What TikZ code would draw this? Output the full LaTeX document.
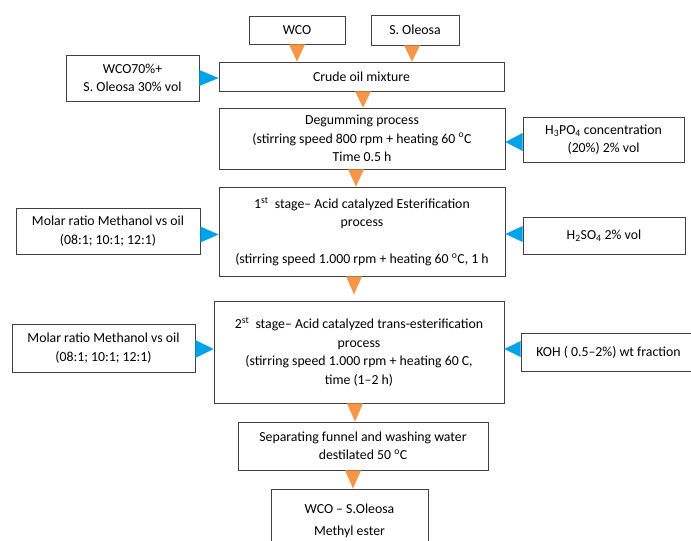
\documentclass[tikz,border=0pt]{standalone}
\usepackage{fontspec}
\setmainfont{Carlito}
\usetikzlibrary{calc}
\definecolor{orangetri}{RGB}{247,150,70}
\definecolor{bluetri}{RGB}{0,162,232}
\definecolor{edgegray}{RGB}{64,64,64}
\tikzset{
  box/.style={draw=edgegray, line width=0.8pt, fill=white, align=center,
    inner sep=0pt, font=\fontsize{13.8}{18.5}\selectfont},
  otri/.style={fill=orangetri},
  btri/.style={fill=bluetri}
}
\begin{document}
\begin{tikzpicture}[x=1pt,y=-1pt]
\useasboundingbox (0,0) rectangle (691,541);
% boxes
\node[box, minimum width=96pt, minimum height=28pt] (wco) at (297,30) {WCO};
\node[box, minimum width=88pt, minimum height=30pt] (sol) at (415,30) {S. Oleosa};
\node[box, minimum width=285pt, minimum height=29pt] (crude) at (361.5,76.5) {Crude oil mixture};
\node[box, minimum width=133pt, minimum height=46pt] (mix) at (132.5,78) {WCO70\%+\\S. Oleosa 30\% vol};
\node[box, minimum width=286pt, minimum height=61pt] (degum) at (362,138.5) {Degumming process\\(stirring speed 800 rpm + heating 60 \textsuperscript{o}C\\Time 0.5 h};
\node[box, minimum width=161pt, minimum height=45pt] (h3po4) at (603.5,139.5) {H\textsubscript{3}PO\textsubscript{4} concentration\\(20\%) 2\% vol};
\node[box, minimum width=286pt, minimum height=89pt] (st1) at (362,231.5) {1\textsuperscript{st}\ \ stage– Acid catalyzed Esterification\\process\\[18.5pt](stirring speed 1.000 rpm + heating 60 \textsuperscript{o}C, 1 h};
\node[box, minimum width=184pt, minimum height=46pt] (mol1) at (108,231) {Molar ratio Methanol vs oil\\(08:1; 10:1; 12:1)};
\node[box, minimum width=162pt, minimum height=37pt] (h2so4) at (604,235.5) {H\textsubscript{2}SO\textsubscript{4} 2\% vol};
\node[box, minimum width=290pt, minimum height=102pt] (st2) at (359,352) {2\textsuperscript{st}\ \ stage– Acid catalyzed trans-esterification\\process\\(stirring speed 1.000 rpm + heating 60 C,\\time (1–2 h)};
\node[box, minimum width=183pt, minimum height=48pt] (mol2) at (103.5,348) {Molar ratio Methanol vs oil\\(08:1; 10:1; 12:1)};
\node[box, minimum width=175pt, minimum height=38pt] (koh) at (608.5,352) {KOH ( 0.5–2\%) wt fraction};
\node[box, minimum width=250pt, minimum height=48pt] (sep) at (363,446) {Separating funnel and washing water\\destilated 50 \textsuperscript{o}C};
\node[box, minimum width=157pt, minimum height=64pt, font=\fontsize{13.8}{22}\selectfont] (fin) at (349.5,521) {WCO – S.Oleosa\\Methyl ester};
% orange triangles (downward)
\coordinate (o1) at (wco.south);
\fill[otri] ([xshift=-8pt]o1) -- ([xshift=8pt]o1) -- (o1 |- crude.north) -- cycle;
\coordinate (o2) at ([xshift=-3pt]sol.south);
\fill[otri] ([xshift=-8pt]o2) -- ([xshift=8pt]o2) -- (o2 |- crude.north) -- cycle;
\coordinate (o3) at ([xshift=1.5pt]crude.south);
\fill[otri] ([xshift=-8pt]o3) -- ([xshift=8pt]o3) -- (o3 |- degum.north) -- cycle;
\coordinate (o4) at ([xshift=-6pt]degum.south);
\fill[otri] ([xshift=-8pt]o4) -- ([xshift=8pt]o4) -- (o4 |- st1.north) -- cycle;
\coordinate (o5) at ([xshift=-8pt]st1.south);
\fill[otri] ([xshift=-8pt]o5) -- ([xshift=8pt]o5) -- ([yshift=-18pt]o5) -- cycle;
\coordinate (o6) at ([xshift=-4pt]st2.south);
\fill[otri] ([xshift=-8pt]o6) -- ([xshift=8pt]o6) -- (o6 |- sep.north) -- cycle;
\coordinate (o7) at ([xshift=-10pt]sep.south);
\fill[otri] ([xshift=-8pt]o7) -- ([xshift=8pt]o7) -- (o7 |- fin.north) -- cycle;
% blue triangles (sideways)
\coordinate (b1) at (mix.east);
\fill[btri] ([yshift=8pt]b1) -- ([yshift=-8pt]b1) -- (b1 -| crude.west) -- cycle;
\coordinate (b2) at ([yshift=-2.5pt]h3po4.west);
\fill[btri] ([yshift=9pt]b2) -- ([yshift=-9pt]b2) -- (b2 -| degum.east) -- cycle;
\coordinate (b3) at ([yshift=-3.5pt]mol1.east);
\fill[btri] ([yshift=8pt]b3) -- ([yshift=-8pt]b3) -- (b3 -| st1.west) -- cycle;
\coordinate (b4) at ([yshift=1.5pt]h2so4.west);
\fill[btri] ([yshift=8pt]b4) -- ([yshift=-8pt]b4) -- (b4 -| st1.east) -- cycle;
\coordinate (b5) at ([yshift=-1pt]mol2.east);
\fill[btri] ([yshift=9pt]b5) -- ([yshift=-9pt]b5) -- (b5 -| st2.west) -- cycle;
\coordinate (b6) at ([yshift=3pt]koh.west);
\fill[btri] ([yshift=8pt]b6) -- ([yshift=-8pt]b6) -- (b6 -| st2.east) -- cycle;
\end{tikzpicture}
\end{document}
